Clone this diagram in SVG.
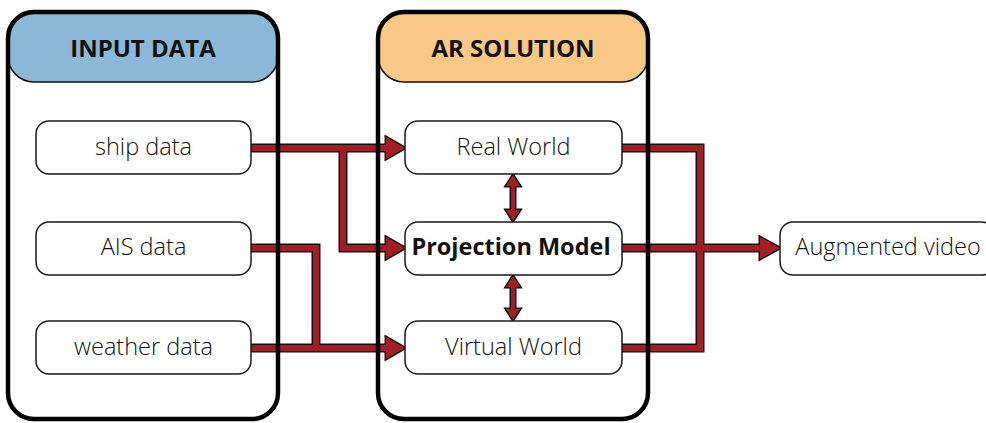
<svg xmlns="http://www.w3.org/2000/svg" width="986" height="423" viewBox="0 0 986 423">
<style>
.hdr{stroke:#111;stroke-width:1.5}
.cont{fill:none;stroke:#000;stroke-width:4.5}
.box{fill:#fff;stroke:#1a1a1a;stroke-width:1.5}
.t{font-family:"Open Sans",sans-serif;font-size:23.5px;font-weight:300;fill:#111;text-anchor:middle;dominant-baseline:central}
.tb{font-family:"Open Sans",sans-serif;font-size:23.5px;font-weight:700;fill:#111;text-anchor:middle;dominant-baseline:central}
.th{font-family:"Open Sans",sans-serif;font-size:24px;font-weight:700;fill:#111;text-anchor:middle;dominant-baseline:central}
.lo{fill:none;stroke:#111;stroke-width:9;stroke-linejoin:miter;stroke-linecap:butt}
.li{fill:none;stroke:#A31D24;stroke-width:6;stroke-linejoin:miter;stroke-linecap:butt}
.ao{fill:#111;stroke:#111;stroke-width:3;stroke-linejoin:miter}
.ai{fill:#A31D24}
.vo{fill:none;stroke:#111;stroke-width:7}
.vi{fill:none;stroke:#A31D24;stroke-width:4}
</style>
<rect width="986" height="423" fill="#fff"/>
<g id="input-data-header">
<rect class="hdr" x="8" y="12" width="270" height="70" rx="26" fill="#8CB8D8"/>
</g>
<g id="ar-solution-header">
<rect class="hdr" x="378" y="12" width="270" height="70" rx="26" fill="#F8C886"/>
</g>
<g id="connectors">
<g id="outline">
<path class="lo" d="M251 148 H388 M343 148 V248 H388 M251 248 H316 V348 M251 348 H388 M622 148 H700 V348 H622 M622 248 H762"/>
<polygon class="ao" points="386,137 405,148 386,159"/>
<polygon class="ao" points="386,237 405,248 386,259"/>
<polygon class="ao" points="386,337 405,348 386,359"/>
<polygon class="ao" points="760,237 780,248 760,259"/>
<path class="vo" d="M513 185 V211 M513 286 V310"/>
<polygon class="ao" points="506,186 513,175 520,186"/>
<polygon class="ao" points="506,210 513,221 520,210"/>
<polygon class="ao" points="506,287 513,276 520,287"/>
<polygon class="ao" points="506,309 513,320 520,309"/>
</g>
<g id="fill">
<path class="li" d="M251 148 H388 M343 148 V248 H388 M251 248 H316 V348 M251 348 H388 M622 148 H700 V348 H622 M622 248 H762"/>
<polygon class="ai" points="386,137 405,148 386,159"/>
<polygon class="ai" points="386,237 405,248 386,259"/>
<polygon class="ai" points="386,337 405,348 386,359"/>
<polygon class="ai" points="760,237 780,248 760,259"/>
<path class="vi" d="M513 185 V211 M513 286 V310"/>
<polygon class="ai" points="506,186 513,175 520,186"/>
<polygon class="ai" points="506,210 513,221 520,210"/>
<polygon class="ai" points="506,287 513,276 520,287"/>
<polygon class="ai" points="506,309 513,320 520,309"/>
</g>
</g>
<g id="input-data">
<rect class="cont" x="8" y="12" width="270" height="407" rx="26"/>
<text class="th" x="143" y="47">INPUT DATA</text>
</g>
<g id="ar-solution">
<rect class="cont" x="378" y="12" width="270" height="407" rx="26"/>
<text class="th" x="513" y="47">AR SOLUTION</text>
</g>
<g id="ship-data"><rect class="box" x="36" y="121" width="215" height="53" rx="13"/><text class="t" x="143.5" y="146">ship data</text></g>
<g id="ais-data"><rect class="box" x="36" y="222" width="215" height="53" rx="13"/><text class="t" x="143.5" y="246">AIS data</text></g>
<g id="weather-data"><rect class="box" x="36" y="321" width="215" height="53" rx="13"/><text class="t" x="143.5" y="346">weather data</text></g>
<g id="real-world"><rect class="box" x="405" y="121" width="217" height="53" rx="13"/><text class="t" x="513.5" y="146">Real World</text></g>
<g id="projection-model"><rect class="box" x="405" y="222" width="217" height="53" rx="13"/><text class="tb" x="511" y="246">Projection Model</text></g>
<g id="virtual-world"><rect class="box" x="405" y="321" width="217" height="53" rx="13"/><text class="t" x="513.5" y="346">Virtual World</text></g>
<g id="augmented-video"><rect class="box" x="780" y="222" width="215" height="53" rx="13"/><text class="t" x="888" y="246">Augmented video</text></g>
</svg>
